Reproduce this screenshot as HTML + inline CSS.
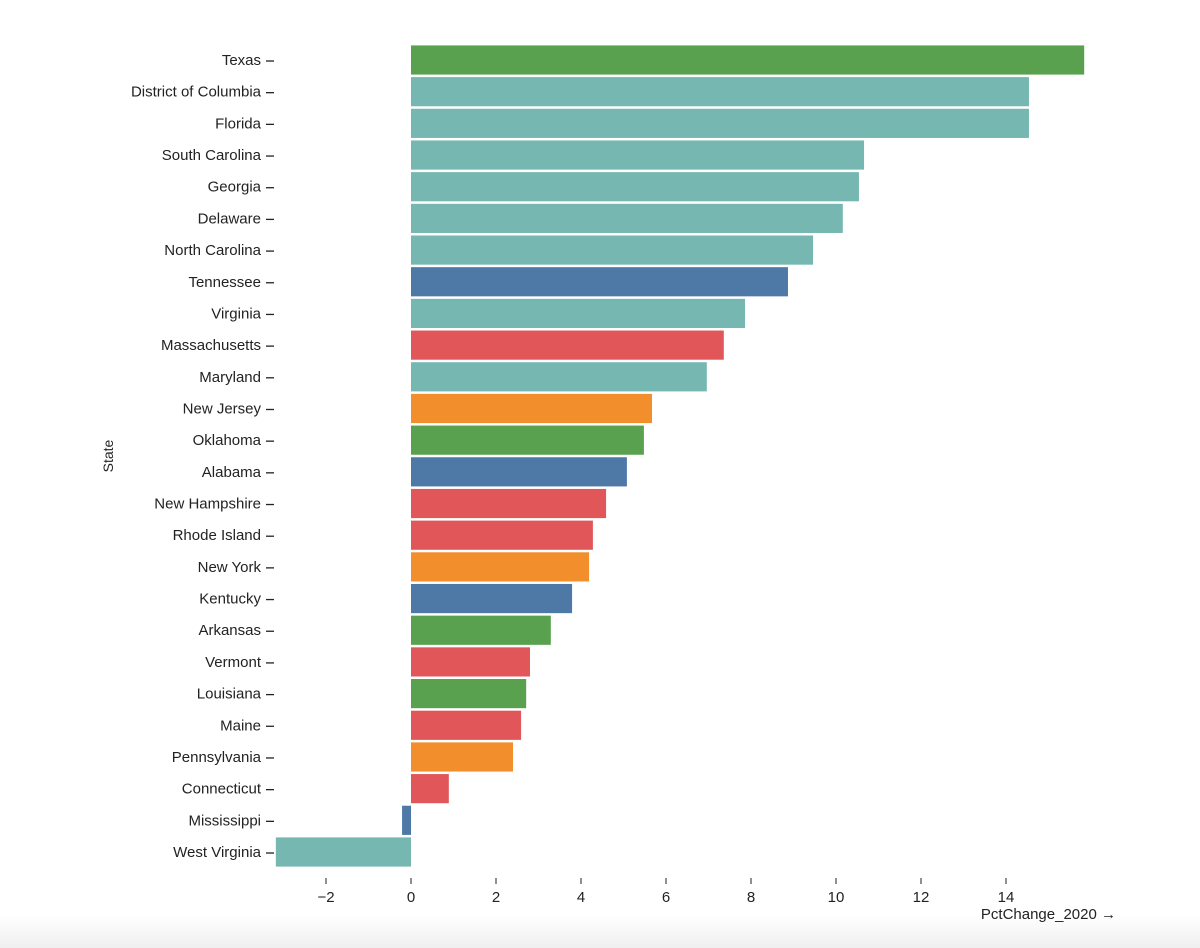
<!DOCTYPE html>
<html><head><meta charset="utf-8"><style>
html,body{margin:0;padding:0;background:#fff;}
body{width:1200px;height:948px;overflow:hidden;position:relative;font-family:"Liberation Sans",sans-serif;}
#fade{position:absolute;left:0;top:915px;width:1200px;height:33px;background:linear-gradient(#ffffff,#efefef);}
svg{position:absolute;left:0;top:0;}
</style></head><body>
<div id="fade"></div>
<svg id="chart" width="1200" height="948"></svg>
<script>
const states=["Texas","District of Columbia","Florida","South Carolina","Georgia","Delaware","North Carolina","Tennessee","Virginia","Massachusetts","Maryland","New Jersey","Oklahoma","Alabama","New Hampshire","Rhode Island","New York","Kentucky","Arkansas","Vermont","Louisiana","Maine","Pennsylvania","Connecticut","Mississippi","West Virginia"];
const values=[15.84,14.54,14.54,10.66,10.54,10.16,9.46,8.87,7.86,7.36,6.96,5.67,5.48,5.08,4.59,4.28,4.19,3.79,3.29,2.8,2.71,2.59,2.4,0.89,-0.21,-3.18];
const groups=["green","teal","teal","teal","teal","teal","teal","blue","teal","red","teal","orange","green","blue","red","red","orange","blue","green","red","green","red","orange","red","blue","teal"];
const xTicks=[-2,0,2,4,6,8,10,12,14];
const palette={green:"#59a14f",teal:"#76b7b2",blue:"#4e79a7",red:"#e15759",orange:"#f28e2b"};
const NS="http://www.w3.org/2000/svg";
const svgEl=document.getElementById('chart');
const x0=411,kx=42.5;
function x(v){return x0+v*kx;}
const step=(852-60)/(states.length-1);
const topY=60-step/2;
function y(i){return topY+i*step;}
const bh=step-2.5;
function mk(t,a){const e=document.createElementNS(NS,t);for(const k in a)e.setAttribute(k,a[k]);svgEl.appendChild(e);return e;}
states.forEach((s,i)=>{
  const v=values[i];
  const r=mk('rect',{x:Math.min(x(0),x(v)),y:y(i)+1.25,width:Math.abs(x(v)-x(0)),height:bh,fill:palette[groups[i]]});
  
  
  const cy=y(i)+step/2;
  const t=mk('text',{x:261,y:cy+5,'text-anchor':'end','font-size':15,fill:'#222'});
  t.textContent=s;
  
  
  const l=mk('line',{x1:266,x2:274,y1:cy+1,y2:cy+1,stroke:'#222','stroke-width':1.3});
  
  
});
xTicks.forEach(v=>{
  const l=mk('line',{x1:x(v),x2:x(v),y1:878,y2:884,stroke:'#222','stroke-width':1});
  
  
  const t=mk('text',{x:x(v),y:902,'text-anchor':'middle','font-size':15,fill:'#222'});
  t.textContent=v<0?'\u2212'+Math.abs(v):String(v);
  
  
});
const xt=mk('text',{x:1116,y:919,'text-anchor':'end','font-size':15,fill:'#222'});
xt.textContent='PctChange_2020 \u2192';


const yt=mk('text',{x:0,y:0,'text-anchor':'middle','font-size':14,fill:'#222',transform:'translate(113,456) rotate(-90)'});
yt.textContent='State';


</script>
</body></html>
